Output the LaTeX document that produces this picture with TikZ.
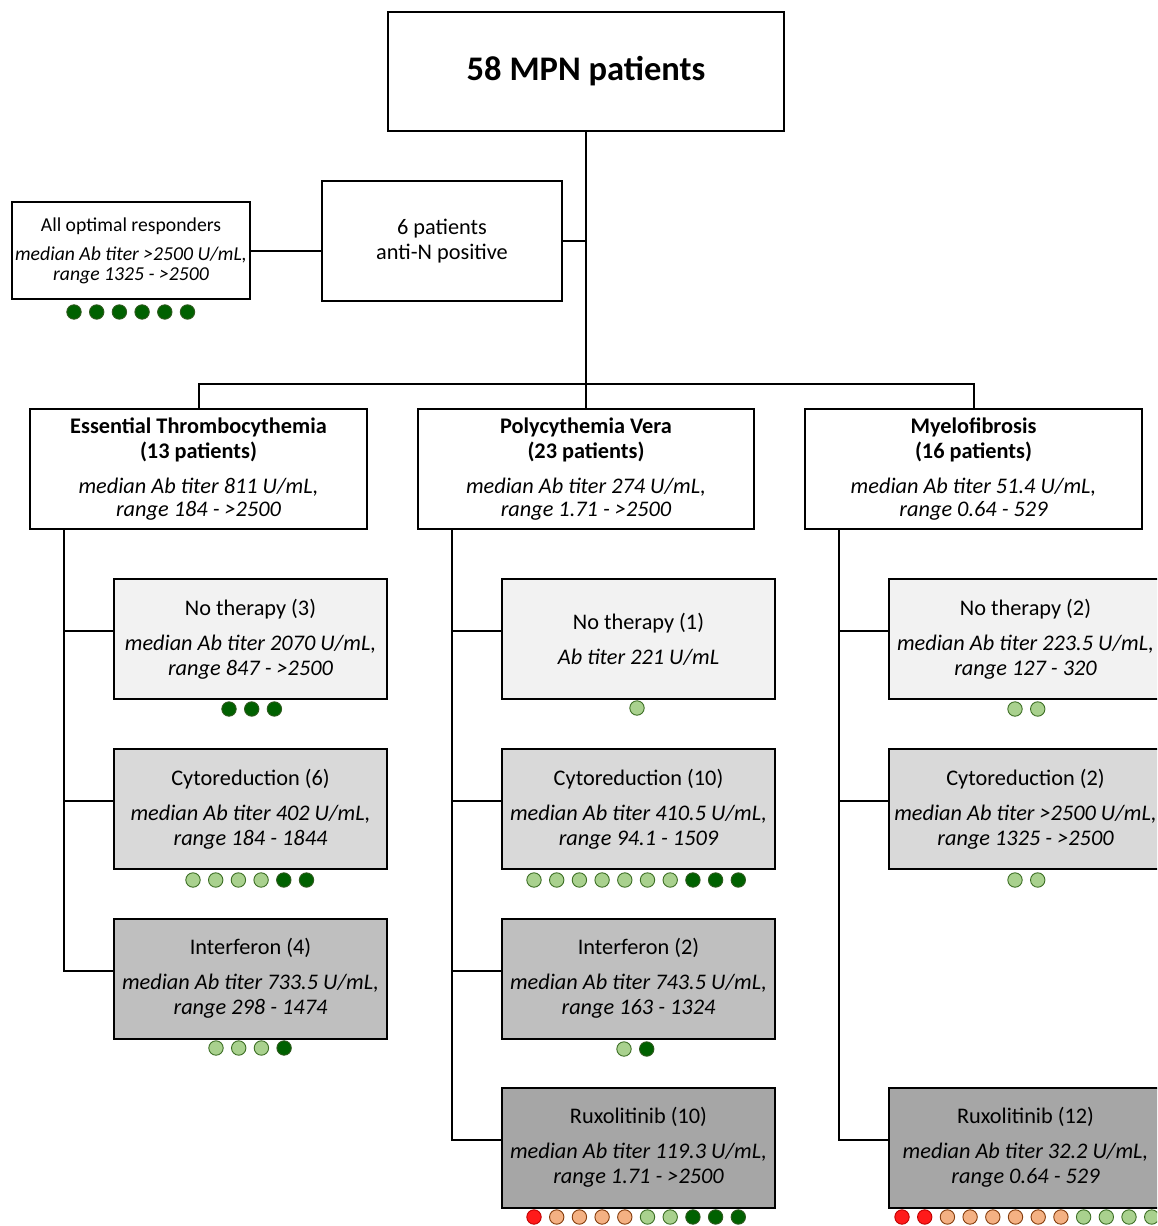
\documentclass[tikz,border=0pt]{standalone}
\usepackage{fontspec}
\setmainfont{Carlito}
\definecolor{fA}{HTML}{F2F2F2}
\definecolor{fB}{HTML}{D9D9D9}
\definecolor{fC}{HTML}{BFBFBF}
\definecolor{fD}{HTML}{A6A6A6}
\definecolor{dgF}{HTML}{006100}
\definecolor{dgD}{HTML}{2F5A1E}
\definecolor{lgF}{HTML}{A9D18E}
\definecolor{lgD}{HTML}{3C6E24}
\definecolor{orF}{HTML}{F4B183}
\definecolor{orD}{HTML}{843C0C}
\definecolor{rdF}{HTML}{FF1A1A}
\definecolor{rdD}{HTML}{C00000}
\newcommand\dotrow[3]{\foreach \c [count=\i from 0] in {#3} {\draw[\c] ({#1+22.7*\i},#2) circle (7.2pt);}}
\newcommand\bodyfont{\fontsize{22.3}{25}\selectfont}
\begin{document}
\begin{tikzpicture}[x=1pt,y=-1pt,
  box/.style={draw=black,line width=2pt,inner sep=0pt,align=center,font=\bodyfont},
  sub/.style={box,minimum width=273pt,minimum height=120pt},
  conn/.style={line width=2pt},
  dotdg/.style={fill=dgF,draw=dgD,line width=0.9pt},
  dotlg/.style={fill=lgF,draw=lgD,line width=0.9pt},
  dotor/.style={fill=orF,draw=orD,line width=0.9pt},
  dotrd/.style={fill=rdF,draw=rdD,line width=0.9pt}]
\useasboundingbox (0,0) rectangle (1157,1226);
\clip (0,0) rectangle (1157,1226);
\fill[white] (0,0) rectangle (1157,1226);

\node[box,minimum width=396pt,minimum height=119pt,font=\fontsize{34.5}{38}\selectfont\bfseries] (top) at (586,71.5) {58 MPN patients};
\node[box,minimum width=240pt,minimum height=120pt] (antiN) at (442,241) {6 patients\\anti-N positive};
\node[box,minimum width=238pt,minimum height=97pt,font=\fontsize{19.7}{20}\selectfont] (resp) at (131,250.5) {All optimal responders\\[9pt]\itshape median Ab titer >2500 U/mL,\\\itshape range 1325 - >2500};
\dotrow{74}{312}{dotdg,dotdg,dotdg,dotdg,dotdg,dotdg}

\node[box,minimum width=337pt,minimum height=120pt] (ET) at (198.5,469) {\bfseries Essential Thrombocythemia\\\bfseries (13 patients)\\[10pt]\itshape median Ab titer 811 U/mL,\\[-2pt]\itshape range 184 - >2500};
\node[box,minimum width=336pt,minimum height=120pt] (PV) at (586,469) {\bfseries Polycythemia Vera\\\bfseries (23 patients)\\[10pt]\itshape median Ab titer 274 U/mL,\\[-2pt]\itshape range 1.71 - >2500};
\node[box,minimum width=337pt,minimum height=120pt] (MF) at (973.5,469) {\bfseries Myelofibrosis\\\bfseries (16 patients)\\[10pt]\itshape median Ab titer 51.4 U/mL,\\[-2pt]\itshape range 0.64 - 529};

\coordinate (hub) at (586,384);
\draw[conn] (top.south) -- (hub);
\draw[conn] (antiN.east) -- (antiN.east -| top.south);
\draw[conn] (resp.east) -- (resp.east -| antiN.west);
\draw[conn] (ET.north) |- (hub) -| (MF.north);
\draw[conn] (hub) -- (PV.north);

% ET
\node[sub,fill=fA] (et1) at (250.5,639) {No therapy (3)\\[10pt]\itshape median Ab titer 2070 U/mL,\\\itshape range 847 - >2500};
\node[sub,fill=fB] (et2) at (250.5,809) {Cytoreduction (6)\\[10pt]\itshape median Ab titer 402 U/mL,\\\itshape range 184 - 1844};
\node[sub,fill=fC] (et3) at (250.5,978.5) {Interferon (4)\\[10pt]\itshape median Ab titer 733.5 U/mL,\\\itshape range 298 - 1474};
\coordinate (etb) at (64,529);
\draw[conn] (etb) |- ([yshift=8pt]et3.west);
\draw[conn] ([yshift=8pt]et1.west) -| (etb);
\draw[conn] ([yshift=8pt]et2.west) -| (etb);
\dotrow{229}{709}{dotdg,dotdg,dotdg}
\dotrow{193}{880}{dotlg,dotlg,dotlg,dotlg,dotdg,dotdg}
\dotrow{216}{1048}{dotlg,dotlg,dotlg,dotdg}

% PV
\node[sub,fill=fA] (pv1) at (638.5,639) {No therapy (1)\\[10pt]\itshape Ab titer 221 U/mL};
\node[sub,fill=fB] (pv2) at (638.5,809) {Cytoreduction (10)\\[10pt]\itshape median Ab titer 410.5 U/mL,\\\itshape range 94.1 - 1509};
\node[sub,fill=fC] (pv3) at (638.5,978.5) {Interferon (2)\\[10pt]\itshape median Ab titer 743.5 U/mL,\\\itshape range 163 - 1324};
\node[sub,fill=fD] (pv4) at (638.5,1147.5) {Ruxolitinib (10)\\[10pt]\itshape median Ab titer 119.3 U/mL,\\\itshape range 1.71 - >2500};
\coordinate (pvb) at (452,529);
\draw[conn] (pvb) |- ([yshift=8pt]pv4.west);
\draw[conn] ([yshift=8pt]pv1.west) -| (pvb);
\draw[conn] ([yshift=8pt]pv2.west) -| (pvb);
\draw[conn] ([yshift=8pt]pv3.west) -| (pvb);
\dotrow{637}{708}{dotlg}
\dotrow{534}{880}{dotlg,dotlg,dotlg,dotlg,dotlg,dotlg,dotlg,dotdg,dotdg,dotdg}
\dotrow{624}{1049}{dotlg,dotdg}
\dotrow{534}{1217}{dotrd,dotor,dotor,dotor,dotor,dotlg,dotlg,dotdg,dotdg,dotdg}

% MF
\node[sub,fill=fA] (mf1) at (1025.5,639) {No therapy (2)\\[10pt]\itshape median Ab titer 223.5 U/mL,\\\itshape range 127 - 320};
\node[sub,fill=fB] (mf2) at (1025.5,809) {Cytoreduction (2)\\[10pt]\itshape median Ab titer >2500 U/mL,\\\itshape range 1325 - >2500};
\node[sub,fill=fD] (mf3) at (1025.5,1147.5) {Ruxolitinib (12)\\[10pt]\itshape median Ab titer 32.2 U/mL,\\\itshape range 0.64 - 529};
\coordinate (mfb) at (839,529);
\draw[conn] (mfb) |- ([yshift=8pt]mf3.west);
\draw[conn] ([yshift=8pt]mf1.west) -| (mfb);
\draw[conn] ([yshift=8pt]mf2.west) -| (mfb);
\dotrow{1015}{709}{dotlg,dotlg}
\dotrow{1015}{880}{dotlg,dotlg}
\dotrow{902}{1217}{dotrd,dotrd,dotor,dotor,dotor,dotor,dotor,dotor,dotlg,dotlg,dotlg,dotlg}
\end{tikzpicture}
\end{document}
